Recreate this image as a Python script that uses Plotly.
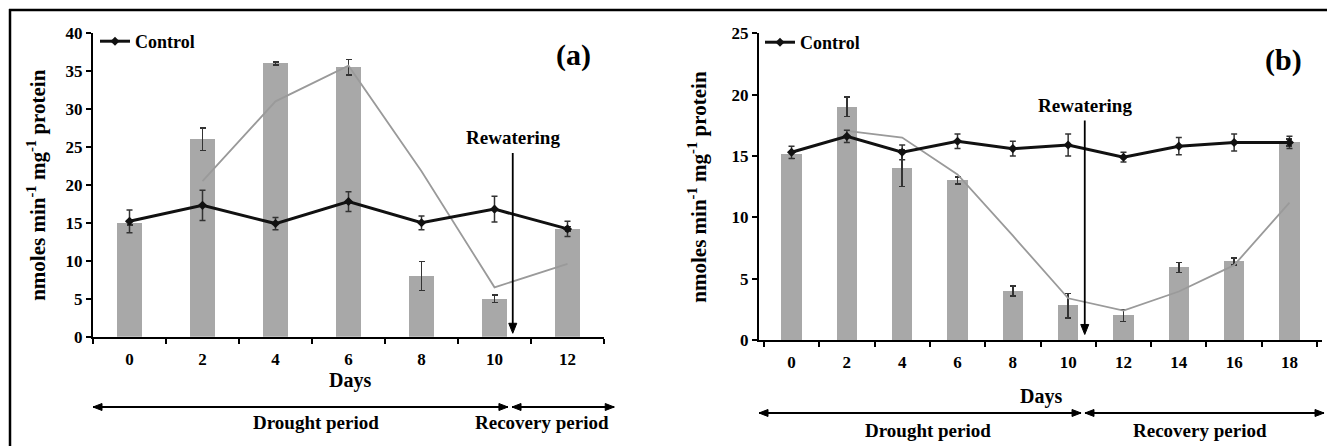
import plotly.graph_objects as go

W, H = 1327, 446

# ---------------- data ----------------
days_a = ["0", "2", "4", "6", "8", "10", "12"]
drought_a = [15.0, 26.0, 36.0, 35.5, 8.0, 5.0, 14.2]
drought_a_err = [0.3, 1.5, 0.2, 1.0, 1.9, 0.5, 0.3]
control_a = [15.2, 17.3, 14.9, 17.8, 15.0, 16.8, 14.2]
control_a_err = [1.5, 2.0, 0.8, 1.3, 0.9, 1.7, 1.0]
trend_a = [None, 20.5, 31.0, 35.7, 21.8, 6.5, 9.6]

days_b = ["0", "2", "4", "6", "8", "10", "12", "14", "16", "18"]
drought_b = [15.1, 19.0, 14.0, 13.0, 4.0, 2.8, 2.0, 5.9, 6.4, 16.1]
drought_b_err = [0.3, 0.8, 1.5, 0.3, 0.4, 1.0, 0.5, 0.4, 0.3, 0.3]
control_b = [15.3, 16.6, 15.3, 16.2, 15.6, 15.9, 14.9, 15.8, 16.1, 16.1]
control_b_err = [0.5, 0.5, 0.6, 0.6, 0.6, 0.9, 0.4, 0.7, 0.7, 0.5]
trend_b = [None, 17.05, 16.5, 13.5, 8.5, 3.4, 2.4, 3.95, 6.1, 11.2]

ytitle = "nmoles min<sup>-1</sup> mg<sup>-1</sup> protein"

# ---------------- style ----------------
SERIF = "Liberation Serif"
BAR = "#a8a8a8"
TREND = "#9a9a9a"
ERR = "#333333"

def px_x(p):
    return p / W

def px_y(p):
    return 1 - p / H

fig = go.Figure()

def add_panel(xa, ya, days, bars, bars_err, ctrl, ctrl_err, trend, bw, legend):
    fig.add_trace(go.Bar(
        x=days, y=bars, width=bw, marker=dict(color=BAR, line=dict(width=0)),
        error_y=dict(type="data", array=bars_err, color=ERR, thickness=1.5, width=3),
        xaxis=xa, yaxis=ya, showlegend=False))
    fig.add_trace(go.Scatter(
        x=days, y=trend, mode="lines", line=dict(color=TREND, width=1.8),
        connectgaps=False, xaxis=xa, yaxis=ya, showlegend=False))
    fig.add_trace(go.Scatter(
        x=days, y=ctrl, mode="lines+markers", name="<b>Control</b>",
        line=dict(color="#111111", width=3),
        marker=dict(symbol="diamond", size=7, color="#111111"),
        error_y=dict(type="data", array=ctrl_err, color=ERR, thickness=1.5, width=3),
        xaxis=xa, yaxis=ya, legend=legend, showlegend=True))

add_panel("x", "y", days_a, drought_a, drought_a_err, control_a, control_a_err, trend_a, 0.33, "legend")
add_panel("x2", "y2", days_b, drought_b, drought_b_err, control_b, control_b_err, trend_b, 0.37, "legend2")

tickfont = dict(family=SERIF, size=17, color="black", weight="bold")
xcommon = dict(type="category", showline=True, linecolor="black", linewidth=2,
               ticks="outside", tickson="boundaries", ticklen=5, tickwidth=2,
               tickcolor="black", showgrid=False, zeroline=False, tickfont=tickfont,
               automargin=False, ticklabelstandoff=6)
ycommon = dict(showline=True, linecolor="black", linewidth=2, ticks="outside",
               ticklen=5, tickwidth=2, tickcolor="black", showgrid=False,
               zeroline=False, tickfont=tickfont, dtick=5, automargin=False)

legfont = dict(family=SERIF, size=18, color="black")
fig.update_layout(
    width=W, height=H, margin=dict(l=0, r=0, t=0, b=0, autoexpand=False),
    paper_bgcolor="white", plot_bgcolor="rgba(0,0,0,0)",
    bargap=0,
    xaxis=dict(domain=[px_x(93), px_x(604)], anchor="y", **xcommon),
    yaxis=dict(domain=[px_y(336.7), px_y(33)], anchor="x", range=[0, 40], **ycommon),
    xaxis2=dict(domain=[px_x(759), px_x(1322)], anchor="y2", **xcommon),
    yaxis2=dict(domain=[px_y(340), px_y(33.3)], anchor="x2", range=[0, 25], **ycommon),
    legend=dict(x=px_x(95), y=px_y(23), xanchor="left", yanchor="top",
                bgcolor="rgba(0,0,0,0)", itemwidth=30, font=legfont,
                tracegroupgap=0),
    legend2=dict(x=px_x(760), y=px_y(24), xanchor="left", yanchor="top",
                 bgcolor="rgba(0,0,0,0)", itemwidth=30, font=legfont,
                 tracegroupgap=0),
    showlegend=True,
)

# outer frame (top and left edges; the rest lies outside the picture)
fig.add_shape(type="line", xref="paper", yref="paper",
              x0=px_x(9), x1=1.02, y0=px_y(10), y1=px_y(10),
              line=dict(color="black", width=2.5))
fig.add_shape(type="line", xref="paper", yref="paper",
              x0=px_x(10), x1=px_x(10), y0=px_y(9), y1=-0.05,
              line=dict(color="black", width=2.5))

ann_font = dict(family=SERIF, size=19, color="black", weight="bold")
C = dict(xanchor="center", yanchor="middle", showarrow=False)
LINE = dict(color="black", width=1.8)

def head(xref, yref, x, y, path):
    fig.add_shape(type="path", xref=xref, yref=yref, xsizemode="pixel", ysizemode="pixel",
                  xanchor=x, yanchor=y, path=path, fillcolor="black",
                  line=dict(color="black", width=1))

def panel_annotations(xa, ya, label, label_xy, rew_x, rew_top, rew_text_y,
                      days_xy, ytitle_x, drought_end, recov_start, recov_end,
                      arrow_y, period_y, drought_x, recov_x):
    xd, yd = f"{xa} domain", f"{ya} domain"
    # panel label
    fig.add_annotation(xref="paper", yref="paper", x=px_x(label_xy[0]), y=px_y(label_xy[1]),
                       text=label,
                       font=dict(family=SERIF, size=30, color="black", weight="bold"), **C)
    # rewatering arrow
    fig.add_shape(type="line", xref=xa, yref=ya, x0=rew_x, x1=rew_x, y0=rew_top, y1=1.2,
                  line=LINE)
    head(xa, ya, rew_x, 0.45, "M -4,10 L 4,10 L 0,0 Z")
    fig.add_annotation(xref=xa, yref=ya, x=rew_x, y=rew_text_y, text="Rewatering",
                       font=ann_font, **C)
    # Days
    fig.add_annotation(xref=xd, yref=yd, x=days_xy[0], y=days_xy[1], text="Days",
                       font=dict(family=SERIF, size=20, color="black", weight="bold"), **C)
    # y title
    fig.add_annotation(xref="paper", yref=yd, x=px_x(ytitle_x), y=0.5, text=ytitle,
                       textangle=-90,
                       font=dict(family=SERIF, size=21, color="black", weight="bold"), **C)
    # period double arrows
    for x0, x1 in [(0.0, drought_end), (recov_start, recov_end)]:
        fig.add_shape(type="line", xref=xd, yref=yd, x0=x0, x1=x1, y0=arrow_y, y1=arrow_y,
                      line=LINE)
        head(xd, yd, x0, arrow_y, "M 0,0 L 9,3.5 L 9,-3.5 Z")
        head(xd, yd, x1, arrow_y, "M 0,0 L -9,3.5 L -9,-3.5 Z")
    fig.add_annotation(xref=xd, yref=yd, x=drought_x, y=period_y, text="Drought period",
                       font=ann_font, **C)
    fig.add_annotation(xref=xd, yref=yd, x=recov_x, y=period_y, text="Recovery period",
                       font=ann_font, **C)

panel_annotations("x", "y", "(a)", (573, 55), 5.25, 24.2, 26.2,
                  (0.503, -0.143), 37, 0.812, 0.820, 1.02,
                  -0.2315, -0.283, 0.436, 0.879)
panel_annotations("x2", "y2", "(b)", (1283, 60), 5.30, 17.9, 19.15,
                  (0.501, -0.185), 698, 0.572, 0.579, 1.0036,
                  -0.238, -0.296, 0.300, 0.783)

fig.write_html("out.html", config={"displayModeBar": False},
               post_script="document.body.style.margin='0px';document.body.style.overflow='hidden';")
